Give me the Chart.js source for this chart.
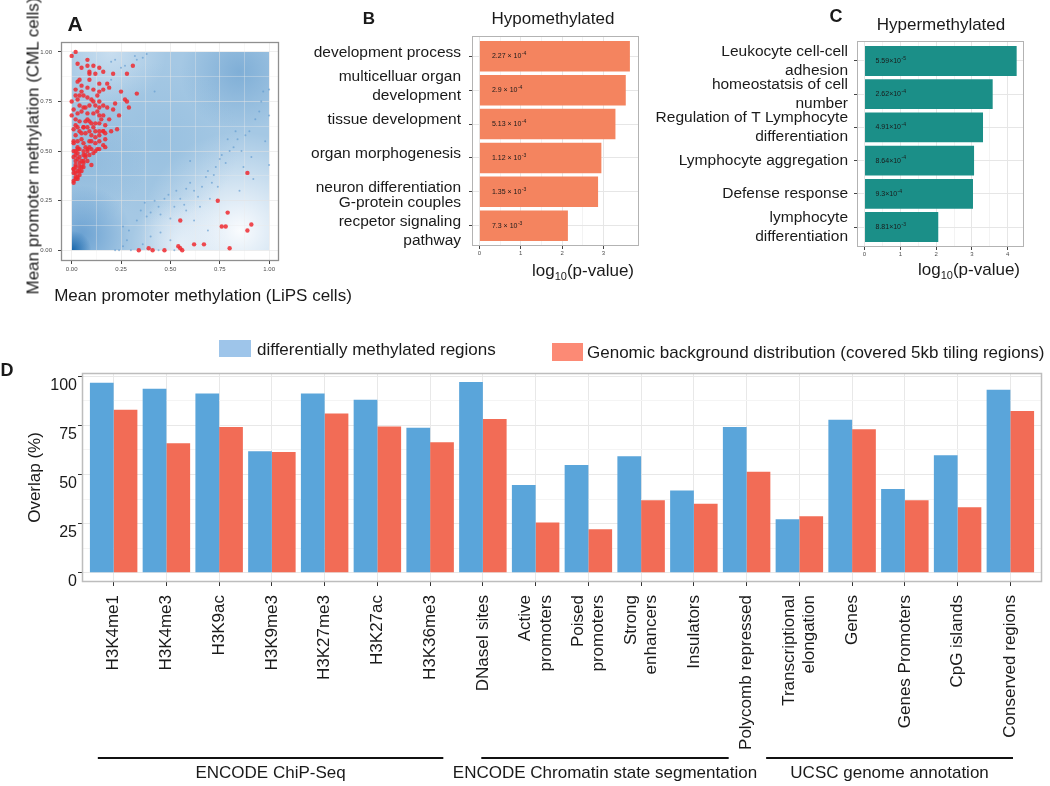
<!DOCTYPE html>
<html>
<head>
<meta charset="utf-8">
<script src="https://cdn.jsdelivr.net/npm/chart.js@4.4.1/dist/chart.umd.min.js"></script>
<style>
  body { margin: 0; background: #fff; }
  #page { position: relative; width: 1050px; height: 786px; overflow: hidden; font-family: "Liberation Sans", Arial, sans-serif; color: #1a1a1a; }
  canvas { position: absolute; }
  .t { position: absolute; transform: translate(-50%, -50%); white-space: nowrap; font-size: 17px; line-height: 1; }
  .tl { position: absolute; transform: translateY(-50%); white-space: nowrap; font-size: 17px; line-height: 1; }
  .b { font-weight: bold; }
  .key { position: absolute; }
  sub { font-size: 11px; vertical-align: -4px; line-height: 0; }
</style>
</head>
<body>
<div id="page">
  <canvas id="chartA" width="300" height="310" style="left:0;top:0"></canvas>
  <canvas id="chartB" width="345" height="300" style="left:300px;top:0"></canvas>
  <canvas id="chartC" width="410" height="300" style="left:640px;top:0"></canvas>
  <canvas id="chartD" width="1050" height="426" style="left:0;top:360px"></canvas>

  <div class="t b" style="left:75px;top:23px;font-size:21px">A</div>
  <div class="t" style="left:33px;top:146px;transform:translate(-50%,-50%) rotate(-90deg)">Mean promoter methylation (CML cells)</div>
  <div class="t" style="left:203px;top:295px">Mean promoter methylation (LiPS cells)</div>

  <div class="t b" style="left:369px;top:18px">B</div>
  <div class="t" style="left:553px;top:18px">Hypomethylated</div>
  <div class="t" style="left:583px;top:270px">log<sub>10</sub>(p-value)</div>

  <div class="t b" style="left:836px;top:16px;font-size:18px">C</div>
  <div class="t" style="left:941px;top:24px">Hypermethylated</div>
  <div class="t" style="left:969px;top:269px">log<sub>10</sub>(p-value)</div>

  <div class="t b" style="left:7px;top:370px;font-size:18px">D</div>
  <div class="key" style="left:219px;top:340px;width:32px;height:17px;background:#9ec5ea"></div>
  <div class="tl" style="left:257px;top:349px">differentially methylated regions</div>
  <div class="key" style="left:552px;top:343px;width:31px;height:18px;background:#fc8a75"></div>
  <div class="tl" style="left:587px;top:352px">Genomic background distribution (covered 5kb tiling regions)</div>
</div>

<script>
// ---- panel A: mean promoter methylation, LiPS (x) vs CML (y)
const methTicks = [0, 0.25, 0.5, 0.75, 1]

const redPoints = [
  [0.00,0.98],[0.02,1.00],[0.03,0.94],[0.08,0.96],[0.08,0.93],[0.05,0.92],[0.11,0.93],[0.14,0.92],[0.16,0.90],[0.21,0.89],[0.31,0.93],[0.28,0.89],
  [0.03,0.85],[0.04,0.86],[0.09,0.89],[0.09,0.86],[0.12,0.89],[0.14,0.84],[0.08,0.82],[0.05,0.83],[0.02,0.81],[0.18,0.84],[0.19,0.82],[0.11,0.81],[0.16,0.81],
  [0.25,0.80],[0.33,0.79],[0.27,0.76],[0.28,0.75],[0.29,0.72],[0.22,0.74],[0.21,0.71],[0.24,0.68],
  [0.00,0.75],[0.02,0.78],[0.03,0.76],[0.06,0.78],[0.08,0.77],[0.10,0.76],[0.13,0.78],[0.14,0.75],[0.16,0.73],[0.18,0.72],[0.14,0.72],[0.12,0.73],[0.09,0.73],[0.07,0.72],[0.04,0.73],[0.01,0.71],
  [0.03,0.69],[0.05,0.70],[0.08,0.69],[0.11,0.69],[0.14,0.68],[0.16,0.68],[0.19,0.66],[0.00,0.68],[0.02,0.66],[0.04,0.65],[0.07,0.65],[0.09,0.65],[0.12,0.64],[0.14,0.64],[0.17,0.63],
  [0.16,0.60],[0.14,0.60],[0.11,0.62],[0.08,0.62],[0.06,0.62],[0.03,0.62],[0.01,0.61],[0.02,0.58],[0.05,0.59],[0.07,0.59],[0.10,0.58],[0.12,0.57],[0.14,0.58],[0.17,0.59],[0.20,0.60],[0.23,0.61],
  [0.17,0.56],[0.14,0.55],[0.12,0.54],[0.09,0.55],[0.06,0.54],[0.03,0.55],[0.01,0.54],[0.16,0.53],[0.17,0.52],[0.14,0.51],[0.13,0.51],[0.10,0.51],[0.08,0.51],[0.06,0.50],[0.03,0.51],[0.01,0.50],
  [0.11,0.49],[0.09,0.48],[0.07,0.48],[0.04,0.47],[0.02,0.48],[0.08,0.45],[0.06,0.45],[0.04,0.44],[0.02,0.45],[0.06,0.42],[0.04,0.42],[0.02,0.42],[0.01,0.41],[0.05,0.40],[0.03,0.40],[0.01,0.39],
  [0.04,0.38],[0.02,0.37],[0.01,0.35],[0.03,0.36],[0.01,0.34],[0.01,0.47],[0.02,0.43],[0.03,0.46],[0.04,0.40],[0.02,0.39],[0.05,0.45],[0.01,0.41],[0.03,0.49],[0.04,0.51],[0.06,0.48],
  [0.02,0.36],[0.03,0.37],[0.05,0.42],[0.06,0.44],[0.02,0.50],[0.03,0.52],[0.01,0.55],[0.05,0.56],[0.07,0.52],[0.08,0.50],[0.09,0.52],[0.07,0.47],[0.04,0.60],[0.06,0.62],[0.02,0.63],
  [0.10,0.64],[0.12,0.60],[0.13,0.70],[0.06,0.72],[0.08,0.66],[0.15,0.66],[0.11,0.75],[0.05,0.80],[0.14,0.80],[0.09,0.90],[0.04,0.78],[0.10,0.55],[0.16,0.60],[0.12,0.50],[0.10,0.43],[0.09,0.60],
  [0.34,0.00],[0.39,0.01],[0.41,0.00],[0.47,0.00],[0.54,0.02],[0.55,0.01],[0.56,0.00],[0.55,0.15],[0.62,0.03],[0.67,0.03],[0.74,0.25],[0.76,0.12],[0.78,0.12],[0.79,0.19],[0.80,0.01],
  [0.89,0.10],[0.89,0.39],[0.91,0.13]
]

const otherPoints = [
  [0.22,0.00],[0.24,0.00],[0.26,0.02],[0.28,0.05],[0.26,0.12],[0.29,0.10],[0.33,0.15],[0.35,0.20],[0.37,0.24],[0.38,0.17],[0.40,0.19],[0.42,0.25],[0.44,0.22],[0.45,0.18],
  [0.47,0.26],[0.49,0.28],[0.50,0.16],[0.52,0.22],[0.53,0.30],[0.55,0.26],[0.57,0.23],[0.58,0.31],[0.60,0.34],[0.62,0.30],[0.64,0.27],[0.66,0.32],[0.68,0.37],[0.69,0.40],
  [0.71,0.34],[0.72,0.38],[0.73,0.42],[0.75,0.46],[0.76,0.48],[0.78,0.44],[0.80,0.50],[0.82,0.52],[0.84,0.56],[0.86,0.50],[0.88,0.58],[0.90,0.60],[0.93,0.66],[0.95,0.70],
  [0.96,0.75],[0.97,0.80],[1.00,0.81],[1.00,0.43],[0.92,0.36],[0.85,0.30],[0.69,0.10],[0.62,0.15],[0.58,0.20],[0.50,0.05],[0.45,0.09],[0.40,0.07],[0.36,0.03],[0.30,0.00],
  [0.44,0.00],[0.52,0.00],[0.65,0.22],[0.70,0.26],[0.74,0.32],[0.79,0.56],[0.83,0.60],[0.87,0.42],[0.91,0.47],[0.20,0.95],[0.22,0.96],[0.32,0.98],[0.33,0.96],[0.36,0.97],
  [0.38,0.99],[0.27,0.93],[0.25,0.92],[0.20,0.86],[0.42,0.80],[0.60,0.45],[0.98,0.55],[1.00,0.68]
]

// ---- panel B: hypomethylated GO terms
const hypoTerms = [
  'development process',
  ['multicelluar organ', 'development'],
  'tissue development',
  'organ morphogenesis',
  'neuron differentiation',
  ['G-protein couples', 'recpetor signaling', 'pathway']
]
const hypoLogP = [3.64, 3.54, 3.29, 2.95, 2.87, 2.14]
const hypoPText = ['2.27 × 10', '2.9 × 10', '5.13 × 10', '1.12 × 10', '1.35 × 10', '7.3 × 10']
const hypoPExp = ['-4', '-4', '-4', '-3', '-3', '-3']
const hypoTicks = [0, 1, 2, 3]

// ---- panel C: hypermethylated GO terms
const hyperTerms = [
  ['Leukocyte cell-cell', 'adhesion'],
  ['homeostatsis of cell', 'number'],
  ['Regulation of T Lymphocyte', 'differentiation'],
  'Lymphocyte aggregation',
  'Defense response',
  ['lymphocyte', 'differentiation']
]
const hyperLogP = [4.25, 3.58, 3.31, 3.06, 3.03, 2.06]
const hyperPText = ['5.59×10', '2.62×10', '4.91×10', '8.64×10', '9.3×10', '8.81×10']
const hyperPExp = ['-5', '-4', '-4', '-4', '-4', '-3']
const hyperTicks = [0, 1, 2, 3, 4]

// ---- panel D: overlap with annotations
const regions = [
  'H3K4me1', 'H3K4me3', 'H3K9ac', 'H3K9me3', 'H3K27me3', 'H3K27ac', 'H3K36me3', 'DNaseI sites',
  ['Active', 'promoters'], ['Poised', 'promoters'], ['Strong', 'enhancers'], 'Insulators', 'Polycomb repressed',
  ['Transcriptional', 'elongation'], 'Genes', 'Genes Promoters', 'CpG islands', 'Conserved regions'
]
const dmrOverlap = [96.7, 93.7, 91.3, 61.8, 91.2, 88.1, 73.8, 97.1, 44.6, 54.8, 59.3, 41.8, 74.2, 27.2, 77.9, 42.6, 59.8, 93.2]
const backgroundOverlap = [83.0, 65.9, 74.2, 61.5, 81.0, 74.5, 66.4, 78.3, 25.5, 22.1, 36.9, 35.1, 51.4, 28.7, 73.0, 36.9, 33.3, 82.3]
const overlapTicks = [0, 25, 50, 75, 100]
const groupNames = ['ENCODE ChiP-Seq', 'ENCODE Chromatin state segmentation', 'UCSC genome annotation']
const groupFrom = [-0.3, 6.97, 12.37]
const groupTo = [6.25, 11.66, 17.05]

Chart.defaults.font.family = '"Liberation Sans", Arial, sans-serif'
Chart.defaults.color = '#1a1a1a'

const FONT = '"Liberation Sans", Arial, sans-serif'

function midpoints(arr) {
  return arr.slice(1).map((v, i) => (v + arr[i]) / 2)
}
function withMinor(arr) {
  return arr.concat(midpoints(arr)).sort((a, b) => a - b)
}
function isMajor(arr, v) {
  return arr.some(m => Math.abs(m - v) < 1e-9)
}

// full box around the plotting panel, ggplot style
const panelBorder = {
  id: 'panelBorder',
  afterDatasetsDraw(chart, args, opts) {
    if (!opts.color) return
    const a = chart.chartArea
    const ctx = chart.ctx
    ctx.save()
    ctx.strokeStyle = opts.color
    ctx.lineWidth = opts.width || 1
    ctx.strokeRect(a.left + 0.5, a.top + 0.5, a.right - a.left - 1, a.bottom - a.top - 1)
    ctx.restore()
  }
}

// smooth 2d density background for panel A
const density = {
  id: 'density',
  beforeDraw(chart, args, opts) {
    if (!opts.blobs) return
    const { ctx, scales: { x, y } } = chart
    const l = x.getPixelForValue(0), r = x.getPixelForValue(1)
    const t = y.getPixelForValue(1), b = y.getPixelForValue(0)
    ctx.save()
    ctx.beginPath()
    ctx.rect(l, t, r - l, b - t)
    ctx.clip()
    ctx.fillStyle = opts.base
    ctx.fillRect(l, t, r - l, b - t)
    opts.blobs.forEach(([bx, by, br, c]) => {
      const px = x.getPixelForValue(bx), py = y.getPixelForValue(by)
      const pr = br * (r - l)
      const g = ctx.createRadialGradient(px, py, 0, px, py, pr)
      g.addColorStop(0, `rgba(${c[0]},${c[1]},${c[2]},${c[3]})`)
      g.addColorStop(1, `rgba(${c[0]},${c[1]},${c[2]},0)`)
      ctx.fillStyle = g
      ctx.fillRect(l, t, r - l, b - t)
    })
    ctx.restore()
  }
}

// p-value text inside the bars of B and C
const barText = {
  id: 'barText',
  afterDatasetsDraw(chart, args, opts) {
    if (!opts.base) return
    const ctx = chart.ctx
    const x0 = chart.scales.x.getPixelForValue(0) + opts.dx
    ctx.save()
    ctx.fillStyle = '#1a1a1a'
    ctx.textAlign = 'left'
    ctx.textBaseline = 'middle'
    chart.getDatasetMeta(0).data.forEach((bar, i) => {
      ctx.font = '7px ' + FONT
      ctx.fillText(opts.base[i], x0, bar.y)
      const w = ctx.measureText(opts.base[i]).width
      ctx.font = '5px ' + FONT
      ctx.fillText(opts.exp[i], x0 + w + 0.5, bar.y - 2.5)
    })
    ctx.restore()
  }
}

// category group lines under panel D
const groupBrackets = {
  id: 'groupBrackets',
  afterDraw(chart, args, opts) {
    if (!opts.names) return
    const ctx = chart.ctx
    const x = chart.scales.x
    const lineY = chart.chartArea.bottom + opts.gap
    ctx.save()
    ctx.strokeStyle = '#111'
    ctx.lineWidth = 2
    ctx.fillStyle = '#1a1a1a'
    ctx.font = '17px ' + FONT
    ctx.textAlign = 'center'
    ctx.textBaseline = 'middle'
    opts.names.forEach((name, i) => {
      const a = x.getPixelForValue(opts.from[i])
      const b = x.getPixelForValue(opts.to[i])
      ctx.beginPath()
      ctx.moveTo(a, lineY)
      ctx.lineTo(b, lineY)
      ctx.stroke()
      ctx.fillText(name, (a + b) / 2, lineY + 15)
    })
    ctx.restore()
  }
}

Chart.register(panelBorder, density, barText, groupBrackets)

const noChrome = { legend: { display: false }, tooltip: { enabled: false } }

// ---------- A
const methAll = withMinor(methTicks)
const methAxis = (fit) => ({
  type: 'linear',
  min: -0.054,
  max: 1.05,
  afterBuildTicks: s => { s.ticks = methAll.map(v => ({ value: v })) },
  afterFit: fit,
  border: { display: false },
  grid: {
    color: c => isMajor(methTicks, c.tick.value) ? 'rgba(225,225,225,0.55)' : 'rgba(235,235,235,0.35)',
    tickLength: 3,
    tickColor: c => isMajor(methTicks, c.tick.value) ? '#444' : 'rgba(0,0,0,0)'
  },
  ticks: {
    font: { size: 6 },
    color: '#4d4d4d',
    autoSkip: false,
    callback: v => isMajor(methTicks, v) ? v.toFixed(2) : ''
  }
})

const scaleAx = methAxis(s => { s.height = 49 })
scaleAx.ticks.padding = 2
const scaleAy = methAxis(s => { s.width = 61 })
scaleAy.ticks.padding = 6

new Chart(document.getElementById('chartA'), {
  type: 'scatter',
  data: {
    datasets: [
      {
        data: otherPoints.map(p => ({ x: p[0], y: p[1] })),
        pointRadius: 1,
        backgroundColor: 'rgba(90,150,205,0.6)',
        borderWidth: 0
      },
      {
        data: redPoints.map(p => ({ x: p[0], y: p[1] })),
        pointRadius: 2.2,
        backgroundColor: 'rgba(238,42,48,0.85)',
        borderWidth: 0
      }
    ]
  },
  options: {
    animation: false,
    responsive: false,
    layout: { padding: { top: 42, right: 21, left: 0, bottom: 0 } },
    plugins: {
      ...noChrome,
      panelBorder: { color: '#8f8f8f', width: 1.3 },
      density: {
        base: 'rgb(165,200,228)',
        blobs: [
          [0.85, 0.10, 0.50, [252, 253, 255, 0.97]],
          [0.55, 0.03, 0.25, [244, 248, 253, 0.65]],
          [0.20, 1.00, 0.28, [212, 229, 243, 0.75]],
          [0.85, 0.90, 0.30, [115, 166, 210, 0.75]],
          [0.45, 0.55, 0.40, [140, 185, 220, 0.5]],
          [0.06, 0.45, 0.32, [128, 176, 215, 0.55]],
          [0.05, 0.08, 0.25, [60, 130, 195, 0.55]],
          [0.00, 0.00, 0.10, [20, 100, 170, 1]]
        ]
      }
    },
    scales: { x: scaleAx, y: scaleAy }
  }
})

// ---------- B and C
function goChart(id, terms, logp, ticks, opts) {
  const all = withMinor(ticks)
  return new Chart(document.getElementById(id), {
    type: 'bar',
    data: {
      datasets: [{
        data: logp.map((v, i) => ({ x: v, y: i })),
        backgroundColor: opts.color,
        categoryPercentage: 0.9,
        barPercentage: 1
      }]
    },
    options: {
      indexAxis: 'y',
      animation: false,
      responsive: false,
      layout: { padding: { top: opts.top, right: opts.right, left: 0, bottom: 0 } },
      plugins: {
        ...noChrome,
        panelBorder: { color: '#b3b3b3', width: 1 },
        barText: { base: opts.pText, exp: opts.pExp, dx: opts.dx }
      },
      scales: {
        x: {
          type: 'linear',
          min: opts.min,
          max: opts.max,
          offset: false,
          afterBuildTicks: s => { s.ticks = all.map(v => ({ value: v })) },
          afterFit: s => { s.height = opts.xHeight },
          border: { display: false },
          grid: {
            offset: false,
            color: c => isMajor(ticks, c.tick.value) ? '#e6e6e6' : '#f3f3f3',
            tickLength: 3,
            tickColor: c => isMajor(ticks, c.tick.value) ? '#444' : 'rgba(0,0,0,0)'
          },
          ticks: {
            font: { size: 6 },
            color: '#4d4d4d',
            padding: 1,
            autoSkip: false,
            maxRotation: 0,
            callback: v => isMajor(ticks, v) ? String(v) : ''
          }
        },
        y: {
          type: 'linear',
          reverse: true,
          min: -0.6,
          max: terms.length - 0.4,
          offset: false,
          afterBuildTicks: s => { s.ticks = terms.map((t, i) => ({ value: i })) },
          afterFit: s => { s.width = opts.yWidth },
          border: { display: false },
          grid: { offset: false, color: '#e6e6e6', tickLength: 3, tickColor: '#444' },
          ticks: {
            font: { size: 15.5 },
            color: '#1a1a1a',
            padding: opts.pad,
            autoSkip: false,
            labelOffset: opts.labelOffset,
            callback: v => terms[v]
          }
        }
      }
    }
  })
}

goChart('chartB', hypoTerms, hypoLogP, hypoTicks, {
  color: '#f4845f', top: 36, right: 6, min: -0.18, max: 3.86,
  xHeight: 54, yWidth: 172, pad: 8, labelOffset: -4,
  pText: hypoPText, pExp: hypoPExp, dx: 12.5
})

goChart('chartC', hyperTerms, hyperLogP, hyperTicks, {
  color: '#1b8f88', top: 41, right: 26, min: -0.21, max: 4.455,
  xHeight: 53, yWidth: 217, pad: 6, labelOffset: 0,
  pText: hyperPText, pExp: hyperPExp, dx: 11
})

// ---------- D
const overlapAll = withMinor(overlapTicks)
// two-line labels are centred on their tick (Chart.js puts the first line on it)
const lineShift = 0.5 * 20.4 / 52.8

new Chart(document.getElementById('chartD'), {
  type: 'bar',
  data: {
    datasets: [
      {
        label: 'differentially methylated regions',
        data: dmrOverlap.map((v, i) => ({ x: i, y: v })),
        backgroundColor: '#5aa5da',
        categoryPercentage: 0.9,
        barPercentage: 1
      },
      {
        label: 'Genomic background distribution (covered 5kb tiling regions)',
        data: backgroundOverlap.map((v, i) => ({ x: i, y: v })),
        backgroundColor: '#f26c56',
        categoryPercentage: 0.9,
        barPercentage: 1
      }
    ]
  },
  options: {
    animation: false,
    responsive: false,
    layout: { padding: { top: 13, right: 8, left: 0, bottom: 0 } },
    plugins: {
      ...noChrome,
      panelBorder: { color: '#bdbdbd', width: 1.5 },
      groupBrackets: { names: groupNames, from: groupFrom, to: groupTo, gap: 176 }
    },
    scales: {
      x: {
        type: 'linear',
        min: -0.6,
        max: regions.length - 0.4,
        offset: false,
        weight: 0,
        afterBuildTicks: s => { s.ticks = regions.map((r, i) => ({ value: i })) },
        afterFit: s => { s.height = 4 },
        border: { display: false },
        grid: { offset: false, color: '#e8e8e8', tickLength: 4, tickColor: '#333' },
        ticks: { display: false }
      },
      xLab: {
        type: 'linear',
        position: 'bottom',
        weight: 1,
        min: -0.6,
        max: regions.length - 0.4,
        offset: false,
        afterBuildTicks: s => {
          s.ticks = regions.map((r, i) => ({ value: Array.isArray(r) ? i - (r.length - 1) * lineShift : i }))
        },
        afterFit: s => { s.height = 200 },
        border: { display: false },
        grid: { display: false, drawTicks: false },
        ticks: {
          autoSkip: false,
          minRotation: 90,
          maxRotation: 90,
          padding: 9,
          font: { size: 17 },
          color: '#1a1a1a',
          callback: (v, i) => regions[i]
        }
      },
      y: {
        type: 'linear',
        min: -4.74,
        max: 101.68,
        afterBuildTicks: s => { s.ticks = overlapAll.map(v => ({ value: v })) },
        afterFit: s => { s.width = 82 },
        border: { display: false },
        title: { display: true, text: 'Overlap (%)', font: { size: 17 }, color: '#1a1a1a', padding: { top: 25, bottom: 0 } },
        grid: {
          color: c => isMajor(overlapTicks, c.tick.value) ? '#e8e8e8' : '#f4f4f4',
          tickLength: 4,
          tickColor: c => isMajor(overlapTicks, c.tick.value) ? '#333' : 'rgba(0,0,0,0)'
        },
        ticks: {
          font: { size: 16 },
          color: '#1a1a1a',
          padding: 1,
          autoSkip: false,
          labelOffset: 9,
          callback: v => isMajor(overlapTicks, v) ? String(v) : ''
        }
      }
    }
  }
})
</script>
</body>
</html>
